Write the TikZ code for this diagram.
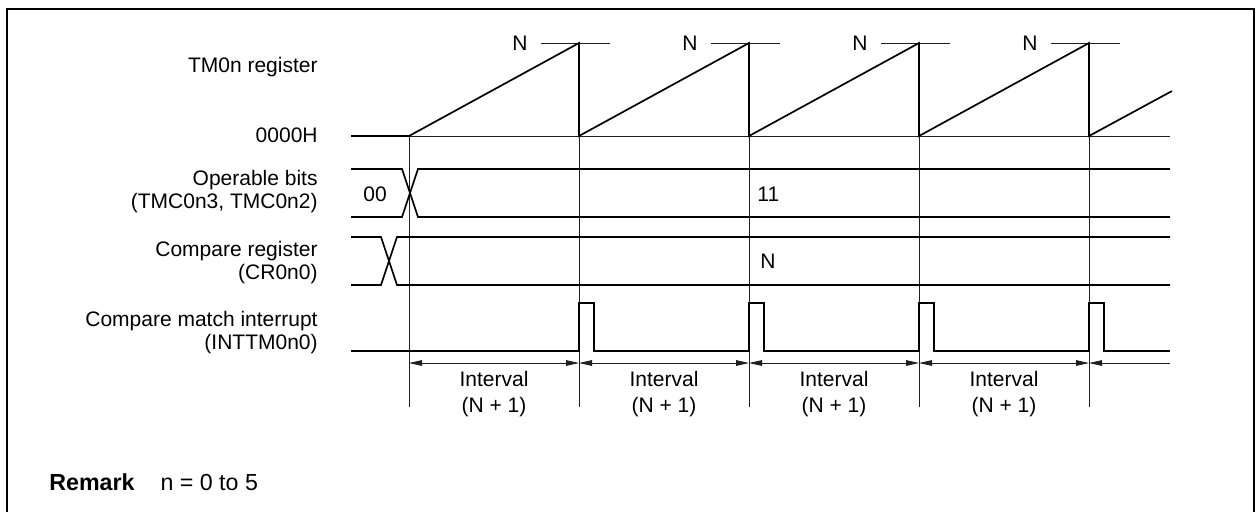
\documentclass[tikz,border=0pt]{standalone}
\usepackage{fontspec}
\setmainfont{Liberation Sans}
\setsansfont{Liberation Sans}
\usepackage{tikz}
\usetikzlibrary{arrows.meta,positioning,calc}
\definecolor{tmink}{RGB}{0,0,0}
\definecolor{tmguide}{RGB}{30,30,30}
\tikzset{
  frame/.style={draw=tmink, line width=1.1pt},
  sig/.style={draw=tmink, line width=0.85pt, line join=miter},
  guide/.style={draw=tmguide, line width=0.4pt},
  dim/.style={{Triangle[length=6.5pt,width=2.8pt]}-{Triangle[length=6.5pt,width=2.8pt]}, draw=tmguide, line width=0.4pt},
  dimend/.style={-{Triangle[length=6.5pt,width=2.8pt]}, draw=tmguide, line width=0.4pt},
  lbl/.style={anchor=east, align=right, inner sep=0pt, font=\fontsize{10.5}{11.5}\sffamily},
  val/.style={inner sep=0pt, font=\fontsize{10.5}{11.5}\sffamily},
  ivl/.style={align=center, inner sep=0pt, font=\fontsize{10.5}{13}\sffamily},
  rmk/.style={anchor=west, inner sep=0pt, font=\fontsize{11.6}{13}\sffamily}
}
\begin{document}
\begin{tikzpicture}[x=0.5pt, y=-0.5pt]
  \useasboundingbox (0,0) rectangle (1256,511);
  % frame, open at the bottom
  \draw[frame] (7,515) -- (7,9) -- (1254,9) -- (1254,515);

  % signal names
  \node[lbl] (tmlbl) at (318,67) {TM0n register};
  \node[lbl] (zerolbl) at (318,135) {0000H};
  \node[lbl] (oplbl) at (318,192) {Operable bits\\(TMC0n3, TMC0n2)};
  \node[lbl] (crlbl) at (318,263) {Compare register\\(CR0n0)};
  \node[lbl] (intlbl) at (318,333) {Compare match interrupt\\(INTTM0n0)};

  % match points
  \coordinate (bot0) at (409,136);
  \coordinate (arr0) at (409,363);
  \coordinate (end0) at (409,407);
  \foreach \i/\x in {1/579,2/749,3/919,4/1089} {
    \coordinate (top\i) at (\x,43);
    \coordinate (bot\i) at (\x,136);
    \coordinate (arr\i) at (\x,363);
    \coordinate (end\i) at (\x,407);
    \node[val] (peak\i) at (\x-59,43) {N};
    \draw[guide] ($(top\i)+(-38,0)$) -- ($(top\i)+(31,0)$);
  }
  \coordinate (arrend) at (1170,363);

  % guides
  \draw[guide] (bot0) -- (1170,136);
  \foreach \i in {0,...,4}
    \draw[guide] (bot\i) -- (end\i);

  % TM0n count
  \draw[sig] (351,136) -- (bot0) -- (top1) -- (bot1) -- (top2) -- (bot2)
    -- (top3) -- (bot3) -- (top4) -- (bot4) -- (1172,91);

  % operable bits
  \draw[sig] (351,169) -- (402,169) -- (418,217) -- (1170,217);
  \draw[sig] (351,217) -- (402,217) -- (418,169) -- (1170,169);
  \node[val] (opold) at (375,194) {00};
  \node[val, anchor=west] (opnew) at (757,194) {11};

  % compare register
  \draw[sig] (351,237) -- (381,237) -- (397,285) -- (1170,285);
  \draw[sig] (351,285) -- (381,285) -- (397,237) -- (1170,237);
  \node[val, anchor=west] (crval) at (760,261) {N};

  % INTTM0n0 pulses
  \draw[sig] (351,351) foreach \x in {579,749,919,1089} {
    -- (\x,351) -- (\x,303) -- (\x+15,303) -- (\x+15,351) } -- (1170,351);

  % intervals
  \foreach \a/\b in {0/1,1/2,2/3,3/4} {
    \draw[dim] (arr\a) -- (arr\b);
    \node[ivl] (ivl\a) at ($(arr\a)!0.5!(arr\b)+(0,31)$) {Interval\\(N + 1)};
  }
  \draw[dimend] (arrend) -- (arr4);

  \node[rmk] (remark) at (49,482) {\textbf{Remark}\hspace{13pt}n = 0 to 5};
\end{tikzpicture}
\end{document}
